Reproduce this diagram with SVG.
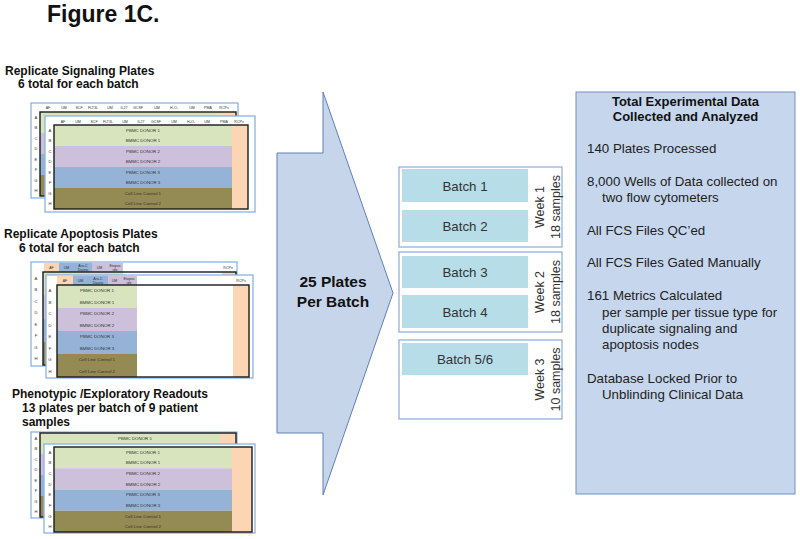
<svg xmlns="http://www.w3.org/2000/svg" width="800" height="539" viewBox="0 0 800 539">
<style>
text{font-family:"Liberation Sans",Arial,sans-serif}
.h{font-weight:bold;font-size:12px;fill:#111}
.tn{font-size:3.6px;fill:#333;text-anchor:middle}
.rl{font-size:4.2px;fill:#333;text-anchor:middle}
.cl{font-size:4.4px;fill:#333;text-anchor:middle}
.ob{fill:#fff;stroke:#8db3e2;stroke-width:1.3}
.ib{fill:none;stroke:#1a1a1a;stroke-width:1.4}
.g{fill:#d7e4bd}.l{fill:#ccc0da}.b{fill:#95b3d7}.o{fill:#948a54}.p{fill:#fcd5b5}
.wk{fill:#fff;stroke:#8eaadb;stroke-width:1.2}
.bt{fill:#b6dde8}
.btx{font-size:13.3px;fill:#333;text-anchor:middle}
.wtx{font-size:12.5px;fill:#333;text-anchor:middle}
.body{font-size:13.3px;fill:#222}
</style>

<g id="title"><text x="47" y="22" font-size="23" font-weight="bold" fill="#111">Figure 1C.</text></g>

<!-- Signaling plates -->
<g id="signaling-label">
<text class="h" x="5" y="75">Replicate Signaling Plates</text>
<text class="h" x="18" y="88">6 total for each batch</text>
</g>
<g id="signaling-plate-back">
<rect class="ob" x="31" y="103" width="207" height="95"/>
<text class="tn" y="108.5"><tspan x="48">AF</tspan><tspan x="64">UM</tspan><tspan x="79">SCF</tspan><tspan x="93">FLT3L</tspan><tspan x="110">UM</tspan><tspan x="124">IL27</tspan><tspan x="138">GCSF</tspan><tspan x="157">UM</tspan><tspan x="174">H₂O₂</tspan><tspan x="192">UM</tspan><tspan x="208">PMA</tspan><tspan x="224">RCPs</tspan></text>
<rect class="g" x="40" y="112" width="182" height="21"/>
<rect class="l" x="40" y="133" width="182" height="21"/>
<rect class="b" x="40" y="154" width="182" height="21"/>
<rect class="o" x="40" y="175" width="182" height="21"/>
<rect class="p" x="222" y="112" width="14" height="84"/>
<rect class="ib" x="40" y="112" width="196" height="84"/>
<text class="rl" x="36"><tspan x="36" y="118.5">A</tspan><tspan x="36" y="129">B</tspan><tspan x="36" y="139.5">C</tspan><tspan x="36" y="150">D</tspan><tspan x="36" y="160.5">E</tspan><tspan x="36" y="171">F</tspan><tspan x="36" y="181.5">G</tspan><tspan x="36" y="192">H</tspan></text>
</g>
<g id="signaling-plate-front">
<rect class="ob" x="45" y="116" width="210" height="96"/>
<text class="tn" y="122.5"><tspan x="63">AF</tspan><tspan x="78">UM</tspan><tspan x="94">SCF</tspan><tspan x="108">FLT3L</tspan><tspan x="125">UM</tspan><tspan x="141">IL27</tspan><tspan x="156">GCSF</tspan><tspan x="174">UM</tspan><tspan x="191">H₂O₂</tspan><tspan x="207">UM</tspan><tspan x="224">PMA</tspan><tspan x="239">RCPs</tspan></text>
<rect class="g" x="54" y="125" width="178" height="21"/>
<rect class="l" x="54" y="146" width="178" height="21"/>
<rect class="b" x="54" y="167" width="178" height="21"/>
<rect class="o" x="54" y="188" width="178" height="21"/>
<rect class="p" x="232" y="125" width="16" height="84"/>
<rect class="ib" x="54" y="125" width="194" height="84"/>
<text class="rl"><tspan x="50" y="131.5">A</tspan><tspan x="50" y="142">B</tspan><tspan x="50" y="152.5">C</tspan><tspan x="50" y="163">D</tspan><tspan x="50" y="173.5">E</tspan><tspan x="50" y="184">F</tspan><tspan x="50" y="194.5">G</tspan><tspan x="50" y="205">H</tspan></text>
<text class="cl"><tspan x="143" y="131.5">PBMC DONOR 1</tspan><tspan x="143" y="142">BMMC DONOR 1</tspan><tspan x="143" y="152.5">PBMC DONOR 2</tspan><tspan x="143" y="163">BMMC DONOR 2</tspan><tspan x="143" y="173.5">PBMC DONOR 3</tspan><tspan x="143" y="184">BMMC DONOR 3</tspan><tspan x="143" y="194.5">Cell Line Control 1</tspan><tspan x="143" y="205">Cell Line Control 2</tspan></text>
</g>

<!-- Apoptosis plates -->
<g id="apoptosis-label">
<text class="h" x="4" y="238">Replicate Apoptosis Plates</text>
<text class="h" x="19" y="252">6 total for each batch</text>
</g>
<g id="apoptosis-plate-back">
<rect class="ob" x="31" y="262" width="206" height="104"/>
<rect class="p" x="44" y="262.7" width="15" height="9.3"/>
<rect class="b" x="59" y="262.7" width="33" height="9.3"/>
<rect class="l" x="92" y="262.7" width="31" height="9.3"/>
<text class="tn"><tspan x="51.5" y="269">AF</tspan><tspan x="66.5" y="269">UM</tspan><tspan x="83" y="266.5">Ara-C</tspan><tspan x="83" y="271">Dauno</tspan><tspan x="99.5" y="269">UM</tspan><tspan x="115" y="266.5">Etopos</tspan><tspan x="115" y="271">ide</tspan><tspan x="228" y="269">RCPs</tspan></text>
<rect class="g" x="43" y="272" width="80" height="23.2"/>
<rect class="l" x="43" y="295.2" width="80" height="23.2"/>
<rect class="b" x="43" y="318.4" width="80" height="23.2"/>
<rect class="o" x="43" y="341.6" width="80" height="23.4"/>
<rect class="p" x="222" y="272" width="14" height="93"/>
<rect class="ib" x="43" y="272" width="193" height="93"/>
<text class="rl"><tspan x="36" y="279.5">A</tspan><tspan x="36" y="291">B</tspan><tspan x="36" y="302.5">C</tspan><tspan x="36" y="314">D</tspan><tspan x="36" y="325.5">E</tspan><tspan x="36" y="337">F</tspan><tspan x="36" y="348.5">G</tspan><tspan x="36" y="360">H</tspan></text>
</g>
<g id="apoptosis-plate-front">
<rect class="ob" x="46" y="275" width="207" height="103"/>
<rect class="p" x="57" y="275.7" width="16" height="9.3"/>
<rect class="b" x="73" y="275.7" width="35" height="9.3"/>
<rect class="l" x="108" y="275.7" width="29" height="9.3"/>
<text class="tn"><tspan x="65" y="282">AF</tspan><tspan x="80.5" y="282">UM</tspan><tspan x="98" y="279.5">Ara-C</tspan><tspan x="98" y="284">Dauno</tspan><tspan x="114.5" y="282">UM</tspan><tspan x="129" y="279.5">Etopos</tspan><tspan x="129" y="284">ide</tspan><tspan x="241" y="282">RCPs</tspan></text>
<rect class="g" x="57" y="285" width="80" height="23"/>
<rect class="l" x="57" y="308" width="80" height="23"/>
<rect class="b" x="57" y="331" width="80" height="23"/>
<rect class="o" x="57" y="354" width="80" height="23"/>
<rect class="p" x="233" y="285" width="16" height="92"/>
<rect class="ib" x="57" y="285" width="192" height="92"/>
<text class="rl"><tspan x="50" y="292.3">A</tspan><tspan x="50" y="303.8">B</tspan><tspan x="50" y="315.3">C</tspan><tspan x="50" y="326.8">D</tspan><tspan x="50" y="338.3">E</tspan><tspan x="50" y="349.8">F</tspan><tspan x="50" y="361.3">G</tspan><tspan x="50" y="372.8">H</tspan></text>
<text class="cl"><tspan x="97" y="292.3">PBMC DONOR 1</tspan><tspan x="97" y="303.8">BMMC DONOR 1</tspan><tspan x="97" y="315.3">PBMC DONOR 2</tspan><tspan x="97" y="326.8">BMMC DONOR 2</tspan><tspan x="97" y="338.3">PBMC DONOR 3</tspan><tspan x="97" y="349.8">BMMC DONOR 3</tspan><tspan x="97" y="361.3">Cell Line Control 1</tspan><tspan x="97" y="372.8">Cell Line Control 2</tspan></text>
</g>

<!-- Phenotypic plates -->
<g id="phenotypic-label">
<text class="h" x="12" y="398">Phenotypic /Exploratory Readouts</text>
<text class="h" x="22" y="411.5">13 plates per batch of 9 patient</text>
<text class="h" x="22" y="426">samples</text>
</g>
<g id="phenotypic-plate-back">
<rect class="ob" x="31" y="432" width="206" height="86"/>
<rect class="g" x="40" y="433" width="180" height="21"/>
<rect class="l" x="40" y="454" width="180" height="21"/>
<rect class="b" x="40" y="475" width="180" height="21"/>
<rect class="o" x="40" y="496" width="180" height="21"/>
<rect class="p" x="220" y="433" width="16" height="84"/>
<rect class="ib" x="40" y="433" width="196" height="84"/>
<text class="cl" x="135" y="439.8">PBMC DONOR 1</text>
<text class="rl"><tspan x="36" y="439.8">A</tspan><tspan x="36" y="450.3">B</tspan><tspan x="36" y="460.8">C</tspan><tspan x="36" y="471.3">D</tspan><tspan x="36" y="481.8">E</tspan><tspan x="36" y="492.3">F</tspan><tspan x="36" y="502.8">G</tspan><tspan x="36" y="513.3">H</tspan></text>
</g>
<g id="phenotypic-plate-front">
<rect class="ob" x="44" y="444" width="211" height="89"/>
<rect class="g" x="54" y="447" width="178" height="21.25"/>
<rect class="l" x="54" y="468.25" width="178" height="21.25"/>
<rect class="b" x="54" y="489.5" width="178" height="21.25"/>
<rect class="o" x="54" y="510.75" width="178" height="21.25"/>
<rect class="p" x="232" y="447" width="20" height="85"/>
<rect class="ib" x="54" y="447" width="198" height="85"/>
<text class="rl"><tspan x="50" y="453.8">A</tspan><tspan x="50" y="464.4">B</tspan><tspan x="50" y="475">C</tspan><tspan x="50" y="485.7">D</tspan><tspan x="50" y="496.3">E</tspan><tspan x="50" y="506.9">F</tspan><tspan x="50" y="517.5">G</tspan><tspan x="50" y="528.2">H</tspan></text>
<text class="cl"><tspan x="143" y="453.8">PBMC DONOR 1</tspan><tspan x="143" y="464.4">BMMC DONOR 1</tspan><tspan x="143" y="475">PBMC DONOR 2</tspan><tspan x="143" y="485.7">BMMC DONOR 2</tspan><tspan x="143" y="496.3">PBMC DONOR 3</tspan><tspan x="143" y="506.9">BMMC DONOR 3</tspan><tspan x="143" y="517.5">Cell Line Control 1</tspan><tspan x="143" y="528.2">Cell Line Control 2</tspan></text>
</g>

<!-- Big arrow -->
<g id="plates-arrow">
<polygon points="323,92 393,293 323,495 323,433 277,433 277,153 323,153" fill="#c6d5ea" stroke="#5f80b8" stroke-width="1"/>
<text x="333" y="287" font-size="15.5" font-weight="bold" fill="#111" text-anchor="middle">25 Plates</text>
<text x="333" y="307" font-size="15.5" font-weight="bold" fill="#111" text-anchor="middle">Per Batch</text>
</g>

<g id="connectors"></g>

<!-- Weeks -->
<g id="week1">
<rect class="wk" x="399" y="167" width="163" height="80"/>
<rect class="bt" x="402" y="169" width="126" height="33"/>
<text class="btx" x="465" y="190.5">Batch 1</text>
<rect class="bt" x="402" y="210" width="126" height="32"/>
<text class="btx" x="465" y="231">Batch 2</text>
<text class="wtx" transform="translate(543.5,207) rotate(-90)">Week 1</text>
<text class="wtx" transform="translate(559.5,207) rotate(-90)">18 samples</text>
</g>
<g id="week2">
<rect class="wk" x="399" y="252" width="163" height="80"/>
<rect class="bt" x="402" y="256" width="126" height="32"/>
<text class="btx" x="465" y="277">Batch 3</text>
<rect class="bt" x="402" y="295" width="126" height="33"/>
<text class="btx" x="465" y="316.5">Batch 4</text>
<text class="wtx" transform="translate(543.5,292) rotate(-90)">Week 2</text>
<text class="wtx" transform="translate(559.5,292) rotate(-90)">18 samples</text>
</g>
<g id="week3">
<rect class="wk" x="399" y="340" width="163" height="79"/>
<rect class="bt" x="402" y="343" width="126" height="32"/>
<text class="btx" x="465" y="364">Batch 5/6</text>
<text class="wtx" transform="translate(543.5,379.5) rotate(-90)">Week 3</text>
<text class="wtx" transform="translate(559.5,379.5) rotate(-90)">10 samples</text>
</g>

<!-- Summary box -->
<g id="summary">
<rect x="576" y="92" width="219" height="402" fill="#c6d6ec" stroke="#7090c0" stroke-width="1"/>
<text x="685.5" y="106" font-size="13" font-weight="bold" fill="#111" text-anchor="middle">Total Experimental Data</text>
<text x="685.5" y="121" font-size="13" font-weight="bold" fill="#111" text-anchor="middle">Collected and Analyzed</text>
<text class="body" x="587" y="153">140 Plates Processed</text>
<text class="body" x="587" y="186">8,000 Wells of Data collected on</text>
<text class="body" x="602" y="202">two flow cytometers</text>
<text class="body" x="587" y="235">All FCS Files QC’ed</text>
<text class="body" x="587" y="267">All FCS Files Gated Manually</text>
<text class="body" x="587" y="300">161 Metrics Calculated</text>
<text class="body" x="602" y="317">per sample per tissue type for</text>
<text class="body" x="602" y="333">duplicate signaling and</text>
<text class="body" x="602" y="349">apoptosis nodes</text>
<text class="body" x="587" y="383">Database Locked Prior to</text>
<text class="body" x="602" y="399">Unblinding Clinical Data</text>
</g>
</svg>
